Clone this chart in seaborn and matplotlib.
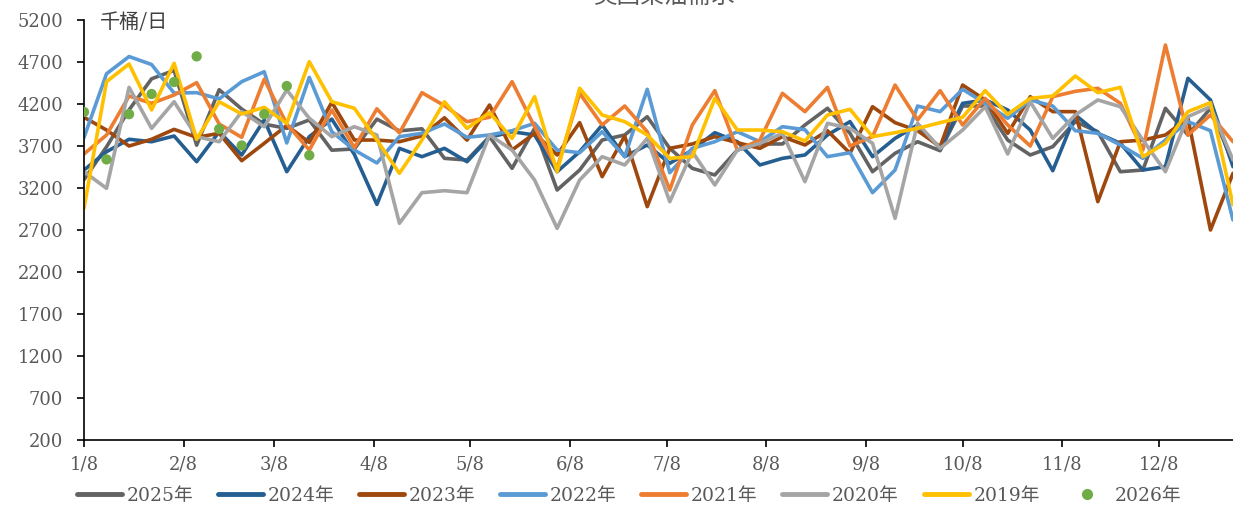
import matplotlib
matplotlib.use("Agg")
import matplotlib.pyplot as plt
from matplotlib.lines import Line2D
import seaborn as sns
import pandas as pd

# weekly readings, kb/d, one value per week from 1/8
s2025 = [3300, 3690, 4130, 4500, 4600, 3710, 4370, 4140, 3960, 3910, 4010, 3650, 3665,
         4020, 3880, 3905, 3553, 3533, 3811, 3434, 3910, 3176, 3414, 3771, 3831, 4049,
         3672, 3434, 3355, 3652, 3724, 3724, 3950, 4149, 3851, 3394, 3613, 3751, 3644,
         4176, 4176, 3771, 3593, 3692, 3990, 3870, 3394, 3414, 4149, 3831, 4149, 3494]
s2024 = [3414, 3632, 3780, 3751, 3819, 3513, 3870, 3593, 4010, 3394, 3811, 4020, 3600,
         3005, 3672, 3573, 3672, 3513, 3803, 3870, 3831, 3394, 3632, 3950, 3573, 3712,
         3494, 3652, 3859, 3751, 3474, 3553, 3593, 3831, 3990, 3573, 3791, 3950, 3672,
         4208, 4248, 4129, 3890, 3406, 4069, 3851, 3732, 3414, 3454, 4506, 4248, 3454]
s2023 = [4042, 3890, 3700, 3780, 3898, 3803, 3851, 3525, 3732, 3945, 3742, 4220, 3771,
         3771, 3751, 3820, 4036, 3770, 4188, 3652, 3851, 3593, 3978, 3335, 3819, 2978,
         3672, 3724, 3811, 3740, 3672, 3811, 3712, 3882, 3613, 4168, 3978, 3882, 3692,
         4426, 4248, 3851, 4287, 4109, 4109, 3037, 3751, 3771, 3831, 4030, 2700, 3375]
s2022 = [3800, 4560, 4765, 4670, 4330, 4335, 4260, 4466, 4584, 3736, 4517, 3870, 3652,
         3498, 3811, 3851, 3962, 3803, 3831, 3882, 3970, 3652, 3620, 3870, 3573, 4375,
         3382, 3672, 3751, 3870, 3751, 3930, 3894, 3573, 3620, 3144, 3414, 4176, 4109,
         4375, 4208, 4030, 4248, 4176, 3882, 3851, 3712, 3553, 3771, 3990, 3882, 2819]
s2021 = [3605, 3831, 4295, 4208, 4307, 4454, 3962, 3803, 4494, 3962, 3652, 4129, 3680,
         4143, 3855, 4335, 4180, 3990, 4042, 4466, 3930, 3434, 4327, 3950, 4176, 3870,
         3176, 3950, 4359, 3652, 3771, 4327, 4109, 4398, 3700, 3811, 4426, 4010, 4359,
         3950, 4267, 3950, 3700, 4287, 4351, 4387, 4208, 3652, 4902, 3831, 4069, 3751]
s2020 = [3394, 3196, 4398, 3910, 4227, 3811, 3751, 4109, 3930, 4367, 4030, 3811, 3930,
         3831, 2780, 3144, 3168, 3144, 3831, 3652, 3295, 2720, 3295, 3573, 3474, 3791,
         3037, 3632, 3236, 3652, 3732, 3851, 3275, 3970, 3910, 3732, 2839, 3970, 3672,
         3890, 4168, 3605, 4227, 3791, 4069, 4248, 4168, 3771, 3394, 4049, 4168, 3533]
s2019 = [2958, 4466, 4676, 4129, 4684, 3780, 4227, 4081, 4160, 3970, 4704, 4227, 4149,
         3771, 3375, 3771, 4227, 3910, 4097, 3791, 4287, 3394, 4387, 4069, 3990, 3831,
         3553, 3573, 4267, 3890, 3890, 3870, 3760, 4069, 4137, 3811, 3859, 3910, 3978,
         4042, 4359, 4077, 4267, 4295, 4533, 4335, 4398, 3573, 3732, 4109, 4216, 3000]
s2026 = [4105, 3540, 4079, 4319, 4462, 4767, 3902, 3706, 4079, 4414, 3589]

years = ["2025年", "2024年", "2023年", "2022年", "2021年", "2020年", "2019年"]
colors = ["#636363", "#255E91", "#9E480E", "#5B9BD5", "#ED7D31", "#A5A5A5", "#FFC000"]
dot_color = "#70AD47"
month_labels = [f"{m}/8" for m in range(1, 13)]

weeks = pd.date_range("2025-01-08", periods=52, freq="7D")
series = [s2025, s2024, s2023, s2022, s2021, s2020, s2019]
df = pd.concat([pd.DataFrame({"date": weeks, "value": s, "year": y})
                for s, y in zip(series, years)], ignore_index=True)
df26 = pd.DataFrame({"date": weeks[:len(s2026)], "value": s2026})

sns.set_style("ticks")
plt.rcParams["font.family"] = ["DejaVu Serif", "Noto Sans CJK SC"]

fig = plt.figure(figsize=(12.33, 5.07), dpi=100)
ax = fig.add_axes([84 / 1233, 67 / 507, 1149 / 1233, 420 / 507])

sns.lineplot(data=df, x="date", y="value", hue="year", hue_order=years,
             palette=colors, linewidth=2.6, ax=ax, legend=False)
sns.scatterplot(data=df26, x="date", y="value", color=dot_color, s=55,
                edgecolor="none", ax=ax, zorder=5)

ax.set_xlim(pd.Timestamp("2025-01-08"), pd.Timestamp("2025-12-31"))
ax.set_ylim(200, 5200)
ax.set_yticks(range(200, 5201, 500))
ax.set_xticks([pd.Timestamp(f"2025-{m:02d}-08") for m in range(1, 13)])
ax.set_xticklabels(month_labels)
ax.set_xlabel("")
ax.set_ylabel("")

for side in ["top", "right"]:
    ax.spines[side].set_visible(False)
for side in ["left", "bottom"]:
    ax.spines[side].set_color("black")
    ax.spines[side].set_linewidth(1.2)
ax.tick_params(axis="both", direction="out", length=5, width=1.2, color="black",
               labelsize=13, labelcolor="#595959")
ax.tick_params(axis="y", pad=10)
ax.tick_params(axis="x", pad=6)

ax.text(0.014, 0.995, "千桶/日", transform=ax.transAxes, ha="left", va="center",
        fontsize=14.5, color="#404040", family=["Noto Sans CJK SC"])
fig.text(665 / 1233, 1 + 4 / 507, "美国柴油需求", ha="center", va="center",
         fontsize=17, color="#595959", family=["Noto Sans CJK SC"])

handles = [Line2D([], [], color=c, linewidth=3.5, solid_capstyle="round") for c in colors]
handles.append(Line2D([], [], color=dot_color, marker="o", linestyle="none", markersize=7))
fig.legend(handles, years + ["2026年"], loc="center", bbox_to_anchor=(0.510, 1 - 496 / 507),
           ncol=8, frameon=False, fontsize=13.5, handlelength=2.4, handletextpad=0.25,
           columnspacing=1.32, labelcolor="#595959")

fig.savefig("out.png", dpi=100)
